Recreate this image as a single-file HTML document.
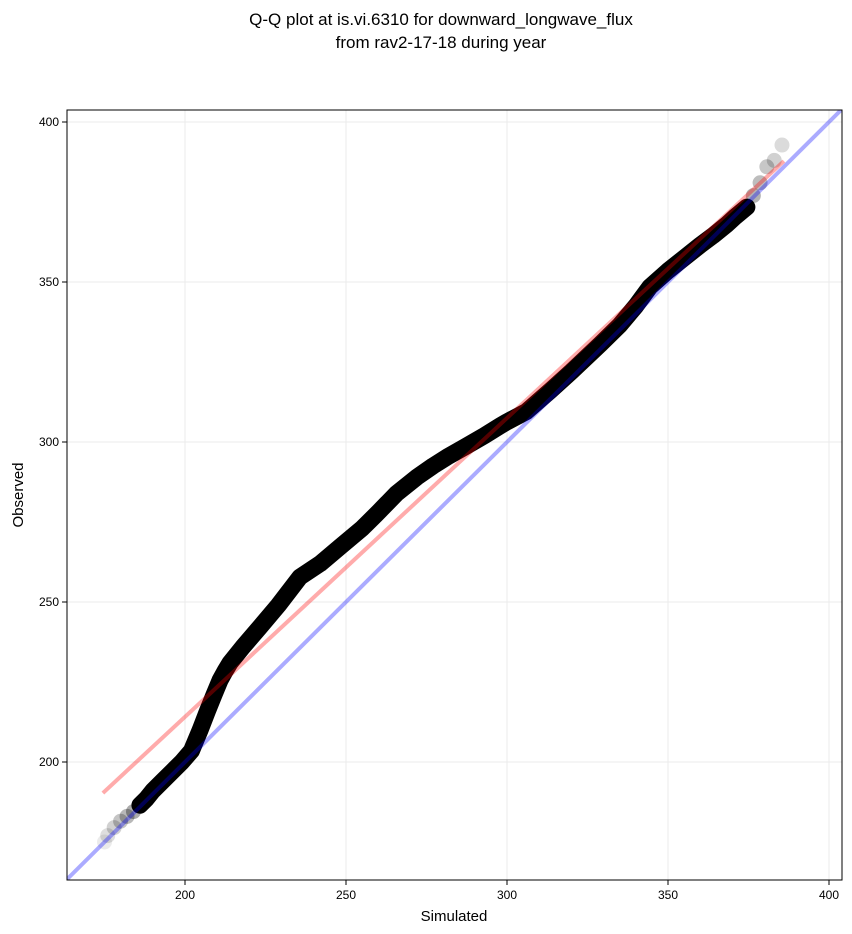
<!DOCTYPE html>
<html><head><meta charset="utf-8"><style>
body{margin:0;background:#fff;font-family:"Liberation Sans",sans-serif}
svg{display:block}
</style></head><body>
<svg width="852" height="934">
<text x="441" y="25" font-size="17" text-anchor="middle">Q-Q plot at is.vi.6310 for downward_longwave_flux</text>
<text x="441" y="48" font-size="17" text-anchor="middle">from rav2-17-18 during year</text>
<g id="grid"></g>
<g id="pts" clip-path="url(#clip)"></g>
<g id="lines" clip-path="url(#clip)"></g>
<defs><clipPath id="clip"><rect x="67" y="110" width="775" height="770"/></clipPath></defs>
<rect x="67" y="110" width="775" height="770" fill="none" stroke="#000" stroke-width="1"/>
<g id="ticks" font-size="12"></g>
<text x="454" y="921" font-size="15" text-anchor="middle">Simulated</text>
<text transform="translate(23,495) rotate(-90)" font-size="15" text-anchor="middle">Observed</text>
</svg>
<script>
const xTicks=[200,250,300,350,400];
const yTicks=[200,250,300,350,400];
const simQ=[175,176,178,180,182,184,186,188,190,193,196,199,202,204.7,207,209,210.9,212.5,214,218,223.3,229,235.7,242,248.1,255,260,265.8,272,277,281.4,287,293,297.8,300,306,313.4,320,328.9,335,340,344.4,350,355,360,364,368.3,371,374.5,376.5,378.6,380.7,383,385.4];
const obsQ=[175,177,179.5,181.5,183,184.5,186.5,188.5,191,194,197,200,203.5,210,216,221,225.6,228.5,231,236,242.2,249,257.8,262,267.2,273,278,284,289,292.5,295.3,298.5,302,305,306.3,309.5,316,322,330.5,336.5,342.5,348.5,353.5,357.5,361.5,364.5,368,370.5,373.4,377,381,386,388,392.8];
const fitLine=[[174.5,190.3],[386,387.8]];
const oneToOne=[[160,160],[410,410]];
const X=v=>185+(v-200)*3.22, Y=v=>762-(v-200)*3.2;
const NS="http://www.w3.org/2000/svg";
function mk(t,a,p){const e=document.createElementNS(NS,t);for(const k in a)e.setAttribute(k,a[k]);p.appendChild(e);return e;}
const g=document.getElementById('grid'),tk=document.getElementById('ticks');
xTicks.forEach(v=>{const x=X(v);
 const l=mk('line',{x1:x,x2:x,y1:110,y2:880,stroke:'#ebebeb'},g);
 
 
 mk('line',{x1:x,x2:x,y1:880,y2:885,stroke:'#000'},tk);
 const t=mk('text',{x:x,y:899,'text-anchor':'middle'},tk);t.textContent=v;
 
 });
yTicks.forEach(v=>{const y=Y(v);
 const l=mk('line',{x1:67,x2:842,y1:y,y2:y,stroke:'#ebebeb'},g);
 
 
 mk('line',{x1:62,x2:67,y1:y,y2:y,stroke:'#000'},tk);
 const t=mk('text',{x:59,y:y+4,'text-anchor':'end'},tk);t.textContent=v;
 
 });
const P=document.getElementById('pts');
const n=simQ.length;
const lo=6, hi=n-5;
let d='';
for(let i=lo;i<hi;i++)d+=(i==lo?'M':'L')+X(simQ[i])+','+Y(obsQ[i]);
const band=mk('path',{d:d,fill:'none',stroke:'#000','stroke-width':17,'stroke-linejoin':'round','stroke-linecap':'round'},P);


for(let i=0;i<n;i++){
 let op=0.5;
 if(i<lo)op=0.08+0.3*i/lo;
 if(i>=hi)op=0.3-0.2*(i-hi)/(n-hi);
 const c=mk('circle',{cx:X(simQ[i]),cy:Y(obsQ[i]),r:7.5,fill:'#000','fill-opacity':op},P);
 
 }
const L=document.getElementById('lines');
const b=mk('line',{x1:X(oneToOne[0][0]),y1:Y(oneToOne[0][1]),x2:X(oneToOne[1][0]),y2:Y(oneToOne[1][1]),stroke:'#0000ff','stroke-opacity':0.33,'stroke-width':4},L);


const r=mk('line',{x1:X(fitLine[0][0]),y1:Y(fitLine[0][1]),x2:X(fitLine[1][0]),y2:Y(fitLine[1][1]),stroke:'#ff0000','stroke-opacity':0.33,'stroke-width':4},L);


</script>
</body></html>
